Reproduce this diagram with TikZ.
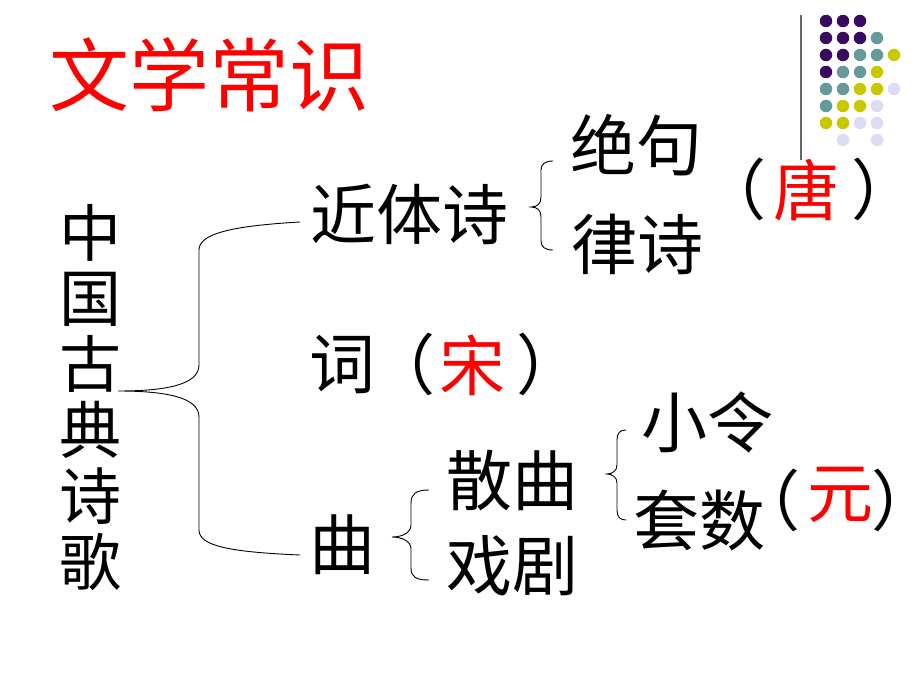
\documentclass[tikz,border=0pt]{standalone}
\usepackage{fontspec}
\newfontfamily\cjk{Noto Sans CJK SC}
\definecolor{dpurple}{HTML}{3A0A60}
\definecolor{dteal}{HTML}{669999}
\definecolor{dyellow}{HTML}{C8C800}
\definecolor{dlav}{HTML}{DCDCF4}
\definecolor{tred}{HTML}{FF0000}
\tikzset{
  txt/.style={inner sep=0pt, font=\cjk\fontsize{66}{66}\selectfont},
  red txt/.style={txt, text=tred},
  vtxt/.style={inner sep=0pt, font=\cjk\fontsize{62}{62}\selectfont},
  title/.style={inner sep=0pt, text=tred, font=\cjk\fontsize{80}{80}\selectfont},
  brace/.style={draw=black, line width=0.9pt},
  dot/.style={circle, inner sep=0pt, minimum size=12.5pt, draw=none},
}
\begin{document}
\begin{tikzpicture}[x=1pt,y=-1pt]
\useasboundingbox (0,0) rectangle (920,690);
% side line and dots
\draw[line width=1.2pt, draw=gray!80!black] (801,15) -- (801,160);
\foreach \r/\row in {0/{P,P,P,N,N},1/{P,P,P,T,N},2/{P,P,T,T,Y},3/{P,T,T,Y,N},4/{T,T,Y,Y,L},5/{T,Y,Y,L,N},6/{Y,Y,L,L,N},7/{N,L,N,L,N}}{
  \foreach \c [count=\i from 0] in \row {
    \if\c P\node[dot, fill=dpurple] at ({826+17*\i},{21+17*\r}) {};\fi
    \if\c T\node[dot, fill=dteal] at ({826+17*\i},{21+17*\r}) {};\fi
    \if\c Y\node[dot, fill=dyellow] at ({826+17*\i},{21+17*\r}) {};\fi
    \if\c L\node[dot, fill=dlav] at ({826+17*\i},{21+17*\r}) {};\fi
  }
}
% title
\node[title] (title) at (209,75) {文学常识};
% vertical column
\node[vtxt] (v1) at (90,233) {中};
\node[vtxt] (v2) at (90,299) {国};
\node[vtxt] (v3) at (90,364) {古};
\node[vtxt] (v4) at (90,430) {典};
\node[vtxt] (v5) at (90,496) {诗};
\node[vtxt] (v6) at (90,562) {歌};
% level 2
\node[txt] (jin) at (409,214) {近体诗};
\node[txt] (ci) at (342,364) {词};
\node[txt] (cil) at (402,364) {（};
\node[red txt] (song) at (472,365) {宋};
\node[txt] (cir) at (549,364) {）};
\node[txt] (qu) at (342,545) {曲};
% level 3
\node[txt] (jue) at (636,145) {绝句};
\node[txt] (lv) at (637,244) {律诗};
\node[txt] (tangl) at (733,189) {（};
\node[red txt] (tang) at (806,190) {唐};
\node[txt] (tangr) at (884,189) {）};
\node[txt] (san) at (512,480) {散曲};
\node[txt] (xi) at (512,566) {戏剧};
\node[txt] (xiao) at (707,422) {小令};
\node[txt] (tao) at (699,520) {套数};
\node[txt, anchor=east] (yuanl) at (801,500) {\makebox[0.5em][r]{（}};
\node[red txt] (yuan) at (840,495) {元};
\node[txt, anchor=west] (yuanr) at (871,500) {\makebox[0.45em][l]{）}};
% braces
\coordinate (b1t) at (300,222);
\coordinate (b1m) at (118,391);
\coordinate (b1b) at (300,555);
\draw[brace] (b1t) .. controls (230,226) and (199,234) .. (199,250) -- (199,365) .. controls (199,385) and (165,391) .. (b1m) .. controls (165,391) and (199,397) .. (199,417) -- (199,530) .. controls (199,546) and (230,552) .. (b1b);
\coordinate (b2t) at (553,161);
\coordinate (b2m) at (531,207);
\coordinate (b2b) at (553,250);
\draw[brace] (b2t) .. controls (545,161) and (541,164) .. (541,170) -- (541,197) .. controls (541,204) and (537,207) .. (b2m) .. controls (537,207) and (541,210) .. (541,217) -- (541,241) .. controls (541,247) and (545,250) .. (b2b);
\coordinate (b3t) at (429,490);
\coordinate (b3m) at (392,537);
\coordinate (b3b) at (429,580);
\draw[brace] (b3t) .. controls (416,490) and (411,494) .. (411,503) -- (411,525) .. controls (411,534) and (400,537) .. (b3m) .. controls (400,537) and (411,540) .. (411,549) -- (411,568) .. controls (411,577) and (416,580) .. (b3b);
\coordinate (b4t) at (626,430);
\coordinate (b4m) at (607,474);
\coordinate (b4b) at (626,520);
\draw[brace] (b4t) .. controls (620,430) and (617,433) .. (617,440) -- (617,465) .. controls (617,471) and (612,474) .. (b4m) .. controls (612,474) and (617,477) .. (617,483) -- (617,510) .. controls (617,517) and (620,520) .. (b4b);
\end{tikzpicture}
\end{document}
